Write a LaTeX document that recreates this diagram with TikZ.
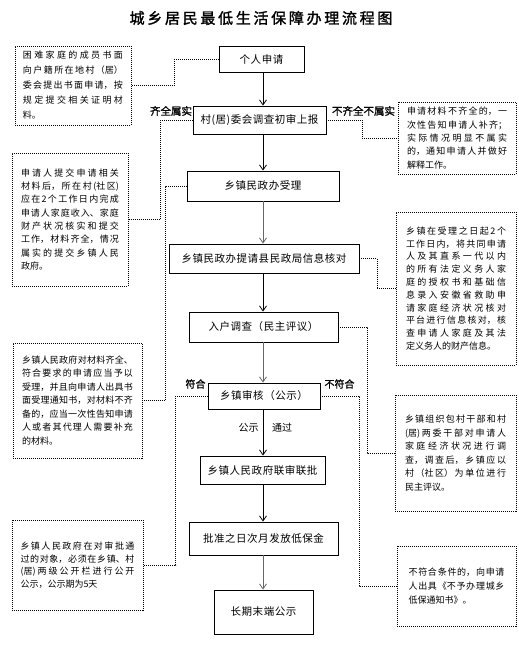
\documentclass[tikz,border=0pt]{standalone}
\usepackage{fontspec}
\setmainfont{Noto Sans CJK SC}
\newfontfamily\titlefont{Noto Sans CJK SC}[FakeBold=1.5,LetterSpace=18]
\newfontfamily\lblfont{Noto Sans CJK SC}[FakeBold=1.2]
\newfontfamily\boxfont{Noto Sans CJK SC}[LetterSpace=5]
\XeTeXlinebreaklocale "zh"
\XeTeXlinebreakskip=0pt plus 5pt
\usetikzlibrary{arrows.meta}
\newcommand\notesize[1]{\fontsize{9}{#1}\selectfont\tolerance=9999 }
\tikzset{
  stepbox/.style={draw, line width=0.9pt, inner sep=0pt, font=\boxfont\fontsize{10.5}{12}\selectfont},
  note/.style={draw, dash pattern=on 1pt off 1pt, line width=0.8pt, inner sep=0pt, align=justify},
  conn/.style={draw, dash pattern=on 1pt off 1pt, line width=0.8pt},
  arr/.style={draw, line width=0.8pt, -{Straight Barb[length=5pt,width=7pt]}},
  garr/.style={arr, draw=black!60},
  lbl/.style={font=\lblfont\fontsize{10.5}{12}\selectfont, inner sep=0pt},
  plbl/.style={font=\fontsize{10}{12}\selectfont, inner sep=0pt}
}
\begin{document}
\begin{tikzpicture}[x=1pt,y=-1pt]
\useasboundingbox[fill=white] (0,0) rectangle (519,645);

\node[font=\titlefont\fontsize{15}{18}\selectfont, inner sep=0pt] (title) at (261,18) {城乡居民最低生活保障办理流程图};

% main boxes
\node[stepbox, minimum width=85pt, minimum height=26pt] (b1) at (261.5,59) {个人申请};
\node[stepbox, minimum width=133pt, minimum height=28pt] (b2) at (259.5,120) {村(居)委会调查初审上报};
\node[stepbox, minimum width=152pt, minimum height=30pt] (b3) at (263,186) {乡镇民政办受理};
\node[stepbox, minimum width=190pt, minimum height=29pt] (b4) at (264,258.5) {乡镇民政办提请县民政局信息核对};
\node[stepbox, minimum width=149pt, minimum height=30pt] (b5) at (263.5,327) {入户调查（民主评议）};
\node[stepbox, minimum width=112pt, minimum height=26pt] (b6) at (264,396) {乡镇审核（公示）};
\node[stepbox, minimum width=125pt, minimum height=28pt] (b7) at (262.5,470) {乡镇人民政府联审联批};
\node[stepbox, minimum width=149pt, minimum height=33pt] (b8) at (263.5,538.5) {批准之日次月发放低保金};
\node[stepbox, minimum width=99pt, minimum height=44pt] (b9) at (263.5,612) {长期末端公示};

\coordinate (ax) at (263,0);
\draw[arr]  (b1.south -| ax) -- (b2.north -| ax);
\draw[arr]  (b2.south -| ax) -- (b3.north -| ax);
\draw[garr] (b3.south -| ax) -- (b4.north -| ax);
\draw[arr]  (b4.south -| ax) -- (b5.north -| ax);
\draw[garr] (b5.south -| ax) -- (b6.north -| ax);
\draw[arr]  (b6.south -| ax) -- (b7.north -| ax);
\draw[arr]  (b7.south -| ax) -- (b8.north -| ax);
\draw[garr] (b8.south -| ax) -- (b9.north -| ax);

% labels
\node[lbl] (l1) at (171,111) {齐全属实};
\node[lbl] (l2) at (363.5,111) {不齐全不属实};
\node[lbl, font=\lblfont\fontsize{10}{12}\selectfont] (l3) at (195.5,384) {符合};
\node[lbl, font=\lblfont\fontsize{10}{12}\selectfont] (l4) at (339.5,384) {不符合};
\node[plbl] (l5) at (248.5,428) {公示};
\node[plbl] (l6) at (282,428) {通过};

% notes
\node[note, text width=100pt, minimum width=116pt, minimum height=79pt, font=\notesize{15}] (nA) at (73,85.5)
 {困难家庭的成员书面\linebreak 向户籍所在地村（居）\linebreak 委会提出书面申请，按\linebreak 规定提交相关证明材\linebreak 料。};
\node[note, text width=100pt, minimum width=118pt, minimum height=72pt, font=\notesize{13.3}] (nB) at (457,138)
 {申请材料不齐全的，一\linebreak 次性告知申请人补齐；\linebreak 实际情况明显不属实\linebreak 的，通知申请人并做好\linebreak 解释工作。};
\node[note, text width=98pt, minimum width=116pt, minimum height=133pt, font=\notesize{13.3}] (nC) at (70,219.5)
 {申请人提交申请相关\linebreak 材料后，所在村(社区)\linebreak 应在2个工作日内完成\linebreak 申请人家庭收入、家庭\linebreak 财产状况核实和提交\linebreak 工作，材料齐全，情况\linebreak 属实的提交乡镇人民\linebreak 政府。};
\node[note, text width=111pt, minimum width=129pt, minimum height=115pt, font=\notesize{13.5}] (nD) at (77.5,400.5)
 {乡镇人民政府对材料齐全、\linebreak 符合要求的申请应当予以\linebreak 受理，并且向申请人出具书\linebreak 面受理通知书，对材料不齐\linebreak 备的，应当一次性告知申请\linebreak 人或者其代理人需要补充\linebreak 的材料。};
\node[note, text width=114pt, minimum width=131pt, minimum height=90pt, font=\notesize{12.5}] (nE) at (77.5,565)
 {乡镇人民政府在对审批通\linebreak 过的对象，必须在乡镇、村\linebreak (居)两级公开栏进行公开\linebreak 公示，公示期为5天};
\node[note, text width=100pt, minimum width=120pt, minimum height=153pt, font=\notesize{12.8}] (nF) at (456,288.5)
 {乡镇在受理之日起2个\linebreak 工作日内，将共同申请\linebreak 人及其直系一代以内\linebreak 的所有法定义务人家\linebreak 庭的授权书和基础信\linebreak 息录入安徽省救助申\linebreak 请家庭经济状况核对\linebreak 平台进行信息核对，核\linebreak 查申请人家庭及其法\linebreak 定义务人的财产信息。};
\node[note, text width=101pt, minimum width=121pt, minimum height=116pt, font=\notesize{13.6}] (nG) at (455.5,453)
 {乡镇组织包村干部和村\linebreak (居)两委干部对申请人\linebreak 家庭经济状况进行调\linebreak 查，调查后，乡镇应以\linebreak 村（社区）为单位进行\linebreak 民主评议。};
\node[note, text width=96pt, minimum width=119pt, minimum height=80pt, font=\notesize{14}] (nH) at (456.5,586)
 {不符合条件的，向申请\linebreak 人出具《不予办理城乡\linebreak 低保通知书》。};

% dotted connectors
\draw[conn] (b1.west) -- ++(-44,0) |- (nA.east);
\draw[conn] (b2.east) -- ++(36,0) |- (nB.west);
\draw[conn] (b2.west) -- ++(-32,0) |- (nC.east);
\draw[conn] (b3.west) -- ++(-21,0) |- (nD.east);
\draw[conn] (b4.east) -- ++(18,0) |- (nF.west);
\draw[conn] (b5.east) -- ++(29,0) |- (nG.west);
\draw[conn] (b6.west) -- ++(-32,0) |- (nE.east);
\draw[conn] (b6.east) -- ++(39,0) |- (nH.west);
\end{tikzpicture}
\end{document}
